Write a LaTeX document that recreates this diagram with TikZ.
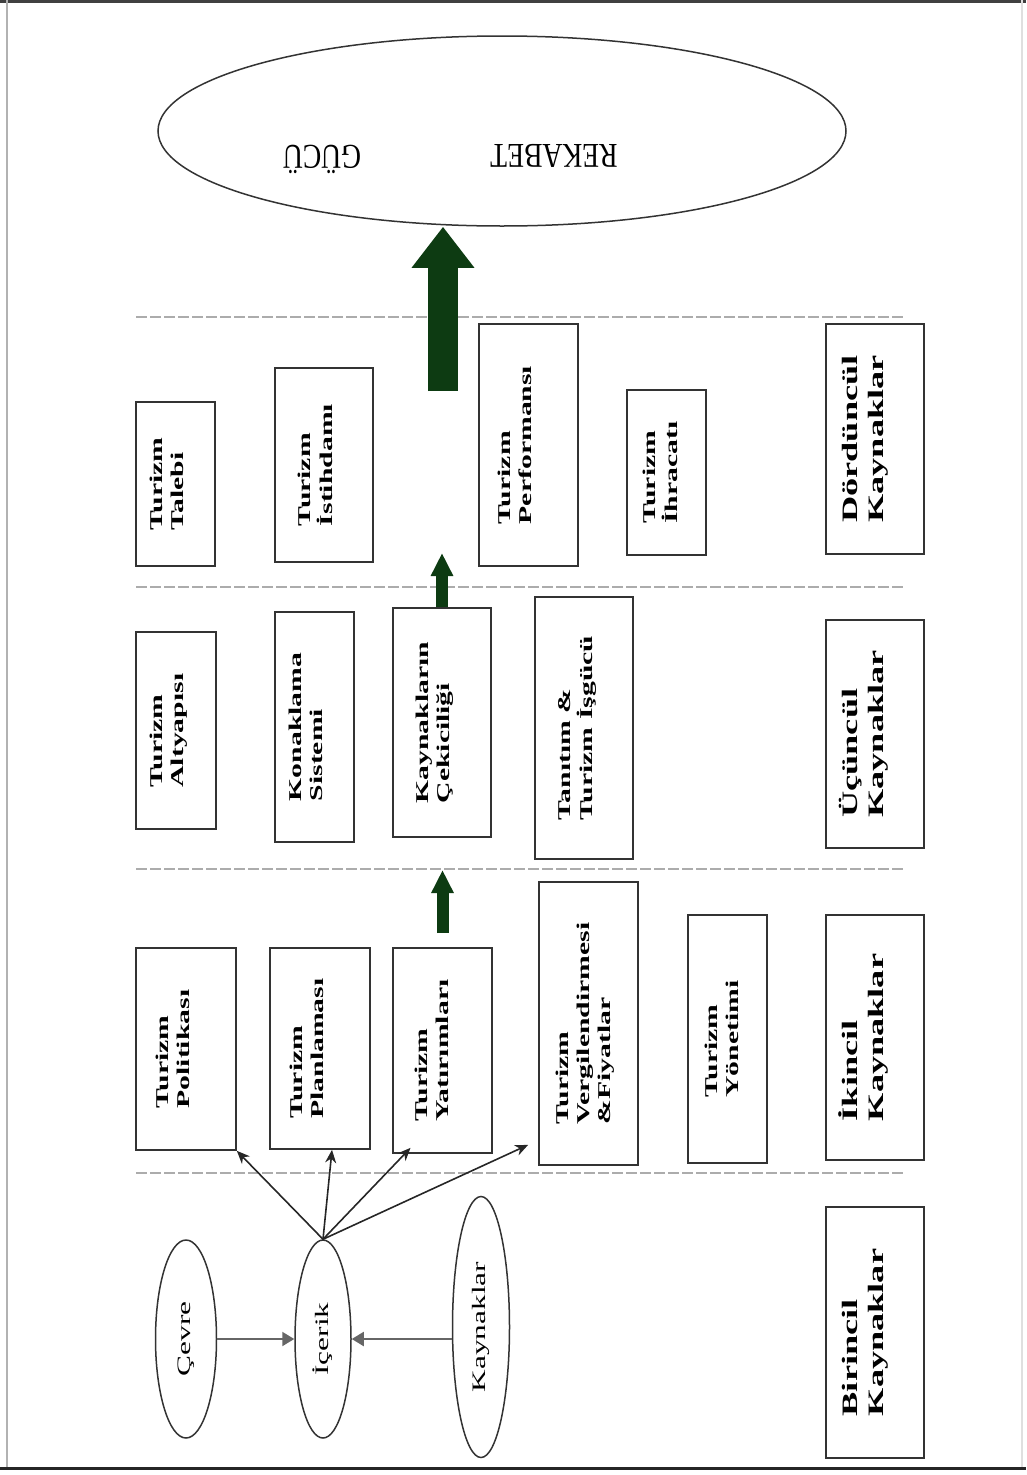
\documentclass[tikz,border=0pt]{standalone}
\usepackage{fontspec}
\setmainfont{Liberation Serif}
\usetikzlibrary{shapes.geometric,arrows.meta,calc}
\definecolor{darkgreen}{HTML}{0D3B12}

% vertical label, stretched along its reading direction
\newcommand{\boxtext}[2][14pt]{\rotatebox{90}{\scalebox{1.65}[1]{\begin{tabular}{@{}l@{}}#2\end{tabular}}}\kern#1}
\newcommand{\ovaltext}[1]{\rotatebox{90}{\scalebox{1.65}[1]{#1}}}

\tikzset{
  box/.style={rectangle, draw=black!80, line width=1.7pt, fill=white, inner sep=0pt,
              font=\fontsize{18}{21}\selectfont\bfseries},
  tierbox/.style={box, font=\fontsize{22}{26}\selectfont\bfseries},
  oval/.style={ellipse, draw=black!80, line width=1.5pt, inner sep=0pt,
               font=\fontsize{19}{22}\selectfont},
  sepline/.style={draw=gray!65, line width=1.6pt, dash pattern=on 11pt off 3pt},
  feed/.style={draw=black!85, line width=1.6pt, -{Stealth[length=13pt,width=11pt]}},
  side/.style={draw=black!60, line width=2pt, -{Triangle[length=12pt,width=14pt]}},
  lift/.style={draw=darkgreen, line width=12pt, -{Triangle[length=23pt,width=21pt]}},
  bigLift/.style={draw=darkgreen, line width=30pt, -{Triangle[length=41pt,width=60pt]}},
  title/.style={inner sep=0pt, font=\fontsize{24}{28}\selectfont}
}

\begin{document}
\begin{tikzpicture}[x=1pt, y=-1pt]
\useasboundingbox (0,0) rectangle (1026,1475);

% frame
\draw[black!75, line width=2.5pt] (0,1.5) -- (1026,1.5);
\draw[gray!60, line width=2pt] (7,0) -- (7,1468);
\draw[gray!25, line width=1.5pt] (1022,0) -- (1022,1468);
\draw[black!85, line width=3pt] (0,1468) -- (1026,1468);

% tier separators
\coordinate (sA) at (136,317);  \coordinate (sAe) at (904,317);
\coordinate (sB) at (136,587);  \coordinate (sBe) at (904,587);
\coordinate (sC) at (136,869);  \coordinate (sCe) at (904,869);
\coordinate (sD) at (136,1173); \coordinate (sDe) at (904,1173);
\draw[sepline] (sA) -- (sAe);
\draw[sepline] (sB) -- (sBe);
\draw[sepline] (sC) -- (sCe);
\draw[sepline] (sD) -- (sDe);

% goal
\node[oval, minimum width=688pt, minimum height=190pt] (ell) at (502,131) {};
\node[title] (rek) at (554,156) {\rotatebox{180}{\scalebox{1.15}[1.45]{REKABET}}};
\node[title] (guc) at (322,159) {\rotatebox{180}{\scalebox{1.15}[1.45]{GÜCÜ}}};

% fourth tier
\node[box, minimum width=79pt, minimum height=164pt] (talebi) at (175.5,484) {\boxtext{Turizm\\Talebi}};
\node[box, minimum width=98pt, minimum height=194pt] (istih) at (324,465) {\boxtext{Turizm\\İstihdamı}};
\node[box, minimum width=99pt, minimum height=242pt] (perf) at (528.5,445) {\boxtext[24pt]{Turizm\\Performansı}};
\node[box, minimum width=79pt, minimum height=165pt] (ihrac) at (666.5,472.5) {\boxtext[8pt]{Turizm\\İhracatı}};
\node[tierbox, minimum width=98pt, minimum height=230pt] (dord) at (875,439) {\boxtext[20pt]{Dördüncül\\Kaynaklar}};

% third tier
\node[box, minimum width=80pt, minimum height=197pt] (altyapi) at (176,730.5) {\boxtext{Turizm\\Altyapısı}};
\node[box, minimum width=79pt, minimum height=230pt] (konak) at (314.5,727) {\boxtext{Konaklama\\Sistemi}};
\node[box, minimum width=98pt, minimum height=229pt] (cekic) at (442,722.5) {\boxtext{Kaynakların\\Çekiciliği}};
\node[box, minimum width=98pt, minimum height=262pt] (tanit) at (584,728) {\boxtext{Tanıtım \&\\Turizm İşgücü}};
\node[tierbox, minimum width=98pt, minimum height=228pt] (ucun) at (875,734) {\boxtext[20pt]{Üçüncül\\Kaynaklar}};

% second tier
\node[box, minimum width=100pt, minimum height=202pt] (pol) at (186,1049) {\boxtext[22pt]{Turizm\\Politikası}};
\node[box, minimum width=100pt, minimum height=201pt] (plan) at (320,1048.5) {\boxtext[22pt]{Turizm\\Planlaması}};
\node[box, minimum width=99pt, minimum height=205pt] (yat) at (442.5,1050.5) {\boxtext[18pt]{Turizm\\Yatırımları}};
\node[box, minimum width=99pt, minimum height=283pt] (verg) at (588.5,1023.5) {\boxtext[6pt]{Turizm\\Vergilendirmesi\\\&Fiyatlar}};
\node[box, minimum width=79pt, minimum height=248pt] (yon) at (727.5,1039) {\boxtext[8pt]{Turizm\\Yönetimi}};
\node[tierbox, minimum width=98pt, minimum height=245pt] (ikin) at (875,1037.5) {\boxtext[20pt]{İkincil\\Kaynaklar}};

% first tier
\node[oval, minimum width=61pt, minimum height=198pt] (cev) at (186,1339) {\ovaltext{Çevre}};
\node[oval, minimum width=56pt, minimum height=198pt] (ice) at (323,1339) {\ovaltext{İçerik}};
\node[oval, minimum width=57pt, minimum height=261pt] (kay) at (481,1327) {\ovaltext{Kaynaklar}};
\node[tierbox, minimum width=98pt, minimum height=251pt] (bir) at (875,1332.5) {\boxtext[20pt]{Birincil\\Kaynaklar}};

% inputs of the content
\draw[side] (cev) -- (ice);
\draw[side] (kay.west |- ice.center) -- (ice);

% content feeding the second tier
\draw[feed] (ice.north) -- (pol.south east);
\draw[feed] (ice.north) -- ([xshift=12pt]plan.south);
\draw[feed] (ice.north) -- ([xshift=-32pt,yshift=6pt]yat.south);
\draw[feed] (ice.north) -- ([xshift=-10pt,yshift=21pt]verg.south west);

% progression between tiers
\coordinate (tip1) at (442,870);
\coordinate (tip2) at (442,553);
\coordinate (bigbase) at (443,391);
\draw[lift] ([yshift=14pt]yat.north) -- (yat.north |- tip1);
\draw[lift] (cekic.north) -- (cekic.north |- tip2);
\draw[bigLift] (bigbase) -- (ell.south -| bigbase);
\end{tikzpicture}
\end{document}
